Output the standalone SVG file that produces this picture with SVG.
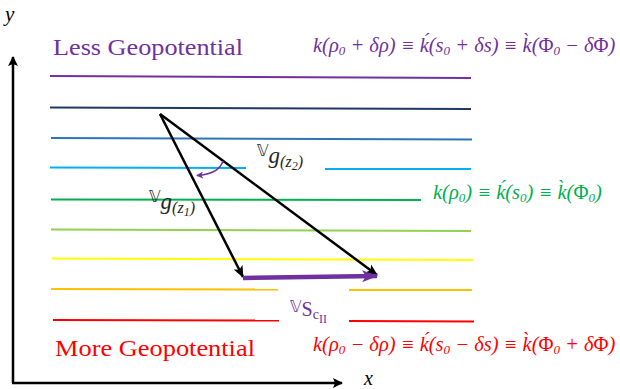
<svg xmlns="http://www.w3.org/2000/svg" width="620" height="389" viewBox="0 0 620 389">
<defs>
<style>
.ln{stroke-width:2;fill:none}
.ttl{font-family:"Liberation Serif",serif;font-size:24px}
.fm{font-family:"Liberation Serif",serif;font-size:20.5px;font-style:italic}
.up{font-style:normal}
.s{font-size:13px}
.lab{font-family:"Liberation Serif",serif;font-style:italic;font-size:23px;fill:#262626}
.dbl{font-family:"DejaVu Sans",sans-serif;font-style:normal;font-size:16px}
.sub{font-size:16px}
</style>
<marker id="axh" viewBox="0 0 10 10" refX="9" refY="5" markerWidth="10" markerHeight="10" markerUnits="userSpaceOnUse" orient="auto">
<path d="M0,0 L10,5 L0,10 L2,5 Z" fill="#000"/>
</marker>
<marker id="bh" viewBox="0 0 12 10" refX="11" refY="5" markerWidth="12" markerHeight="10" markerUnits="userSpaceOnUse" orient="auto">
<path d="M0,0 L12,5 L0,10 L3,5 Z" fill="#000"/>
</marker>
<marker id="ph" viewBox="0 0 16 12" refX="15" refY="6" markerWidth="16" markerHeight="12" markerUnits="userSpaceOnUse" orient="auto">
<path d="M0,0 L16,6 L0,12 L4,6 Z" fill="#7030A0"/>
</marker>
<marker id="sh" viewBox="0 0 8 8" refX="7" refY="4" markerWidth="7" markerHeight="7" markerUnits="userSpaceOnUse" orient="auto">
<path d="M0,0 L8,4 L0,8 L2,4 Z" fill="#7030A0"/>
</marker>
</defs>

<g id="axes">
<line x1="13" y1="383" x2="13" y2="57" stroke="#000" stroke-width="2.5" marker-end="url(#axh)"/>
<line x1="12" y1="383" x2="342" y2="383" stroke="#000" stroke-width="2.5" marker-end="url(#axh)"/>
<text x="5" y="21" class="lab" style="fill:#000;font-size:21px">y</text>
<text x="364" y="385" class="lab" style="fill:#000;font-size:20px">x</text>
</g>

<g id="levels">
<line class="ln" x1="50" y1="76" x2="471" y2="78" stroke="#7030A0"/>
<line class="ln" x1="50" y1="107.5" x2="471" y2="109" stroke="#1F3864"/>
<line class="ln" x1="51" y1="138" x2="472" y2="139.5" stroke="#2E75B6"/>
<line class="ln" x1="50" y1="167.5" x2="246" y2="168" stroke="#00B0F0"/>
<line class="ln" x1="325" y1="169" x2="471" y2="169" stroke="#00B0F0"/>
<line class="ln" x1="51" y1="199.5" x2="421" y2="200" stroke="#00B050"/>
<line class="ln" x1="51" y1="229.5" x2="471" y2="231" stroke="#92D050"/>
<line class="ln" x1="52" y1="258.5" x2="473" y2="260" stroke="#FFFF00"/>
<line class="ln" x1="51" y1="289" x2="278" y2="289.5" stroke="#FFC000"/>
<line class="ln" x1="349" y1="290" x2="472" y2="290" stroke="#FFC000"/>
<line class="ln" x1="53" y1="320" x2="279" y2="320.5" stroke="#FF0000"/>
<line class="ln" x1="349" y1="321" x2="474" y2="321.5" stroke="#FF0000"/>
</g>

<g id="titles">
<text class="ttl" x="53" y="55" fill="#7030A0" textLength="190" lengthAdjust="spacingAndGlyphs">Less Geopotential</text>
<text class="ttl" x="55" y="356" fill="#FF0000" textLength="200" lengthAdjust="spacingAndGlyphs">More Geopotential</text>
</g>

<g id="formulas">
<text class="fm" x="313" y="52" fill="#7030A0">k(ρ<tspan class="s" dy="3">0</tspan><tspan dy="-3"> + δρ) ≡ ḱ(s</tspan><tspan class="s" dy="3">0</tspan><tspan dy="-3"> + δs) ≡ k̀(</tspan><tspan class="up">Φ</tspan><tspan class="s" dy="3">0</tspan><tspan dy="-3"> − δ</tspan><tspan class="up">Φ</tspan>)</text>
<text class="fm" x="433" y="199" fill="#00B050">k(ρ<tspan class="s" dy="3">0</tspan><tspan dy="-3">) ≡ ḱ(s</tspan><tspan class="s" dy="3">0</tspan><tspan dy="-3">) ≡ k̀(</tspan><tspan class="up">Φ</tspan><tspan class="s" dy="3">0</tspan><tspan dy="-3">)</tspan></text>
<text class="fm" x="313" y="351" fill="#FF0000">k(ρ<tspan class="s" dy="3">0</tspan><tspan dy="-3"> − δρ) ≡ ḱ(s</tspan><tspan class="s" dy="3">0</tspan><tspan dy="-3"> − δs) ≡ k̀(</tspan><tspan class="up">Φ</tspan><tspan class="s" dy="3">0</tspan><tspan dy="-3"> + δ</tspan><tspan class="up">Φ</tspan>)</text>
</g>

<g id="connectors">
<line x1="160" y1="114" x2="243" y2="277" stroke="#000" stroke-width="2.5" marker-end="url(#bh)"/>
<line x1="160" y1="114" x2="377" y2="275" stroke="#000" stroke-width="2.5" marker-end="url(#bh)"/>
<line x1="243" y1="278" x2="377" y2="276" stroke="#7030A0" stroke-width="4.5" marker-end="url(#ph)"/>
<path d="M223,161 Q219,174 197,175.5" stroke="#7030A0" stroke-width="1.5" fill="none" marker-end="url(#sh)"/>
</g>

<g id="labels">
<text class="lab" x="257" y="163"><tspan class="dbl" dy="-7">𝕍</tspan><tspan dy="7">g</tspan><tspan class="sub" dy="4">(z</tspan><tspan class="sub" dy="3" style="font-size:12px">2</tspan><tspan class="sub" dy="-3">)</tspan></text>
<text class="lab" x="149" y="209"><tspan class="dbl" dy="-7">𝕍</tspan><tspan dy="7">g</tspan><tspan class="sub" dy="4">(z</tspan><tspan class="sub" dy="3" style="font-size:12px">1</tspan><tspan class="sub" dy="-3">)</tspan></text>
<text x="290" y="312" style="font-family:'Liberation Serif',serif;font-size:20px;fill:#7030A0"><tspan class="dbl">𝕍</tspan><tspan dy="4">S</tspan><tspan dy="3" style="font-size:14px">c</tspan><tspan dy="4" style="font-size:12px">II</tspan></text>
</g>
</svg>
